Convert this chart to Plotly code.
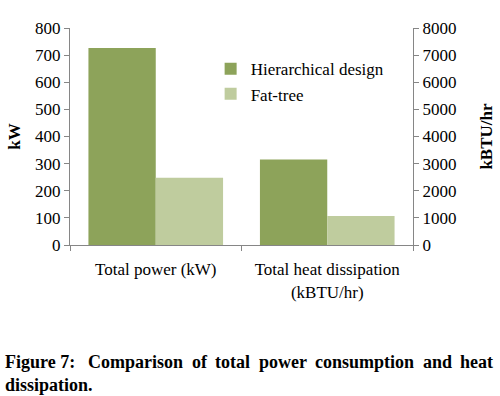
import plotly.graph_objects as go

categories = ["Total power (kW)", "Total heat dissipation<br>(kBTU/hr)"]
series_names = ["Hierarchical design", "Fat-tree"]
power_kw = [726, 248]          # left axis, kW
heat_kbtu = [3150, 1070]       # right axis, kBTU/hr
colors = ["#8DA35A", "#BFCC9E"]

caption_words = ["Figure 7:", "Comparison", "of", "total", "power", "consumption", "and", "heat"]
caption_word_x = [5, 88, 191.5, 215, 258.5, 315, 422.5, 460]   # left edge, px
caption_line2 = "dissipation."

FONT = "Liberation Serif, Times New Roman, serif"

# plot area in pixels
PX0, PX1, PY0, PY1 = 70, 413, 28, 245
def px_x(px):
    return (px - PX0) / (PX1 - PX0)
def px_y(py):
    return (PY1 - py) / (PY1 - PY0)

fig = go.Figure()
for i, name in enumerate(series_names):
    fig.add_trace(go.Bar(
        x=[categories[0]], y=[power_kw[i]], name=name,
        marker=dict(color=colors[i], line=dict(width=0)),
        offsetgroup=str(i), legendgroup=name, showlegend=True,
        yaxis="y",
    ))
for i, name in enumerate(series_names):
    fig.add_trace(go.Bar(
        x=[categories[1]], y=[heat_kbtu[i]], name=name,
        marker=dict(color=colors[i], line=dict(width=0)),
        offsetgroup=str(i), legendgroup=name, showlegend=False,
        yaxis="y2",
    ))

annotations = []
for w, x in zip(caption_words, caption_word_x):
    annotations.append(dict(
        text="<b>%s</b>" % w, xref="paper", yref="paper",
        x=px_x(x), y=px_y(362), xanchor="left", yanchor="middle",
        showarrow=False, font=dict(family=FONT, size=18), borderpad=0, xshift=-1))
annotations.append(dict(
    text="<b>%s</b>" % caption_line2, xref="paper", yref="paper",
    x=px_x(5), y=px_y(385), xanchor="left", yanchor="middle",
    showarrow=False, font=dict(family=FONT, size=18), borderpad=0, xshift=-1))

axis_grey = "#868686"
fig.update_layout(
    width=500, height=396,
    margin=dict(l=PX0, r=500 - PX1, t=PY0, b=396 - PY1),
    paper_bgcolor="white", plot_bgcolor="white",
    font=dict(family=FONT, size=17, color="black"),
    barmode="group", bargap=0.215, bargroupgap=0,
    xaxis=dict(
        categoryorder="array", categoryarray=categories,
        showline=True, linecolor=axis_grey, linewidth=1,
        ticks="outside", tickson="boundaries", ticklen=5, tickcolor=axis_grey,
        showgrid=False, zeroline=False, automargin=False,
        ticklabelstandoff=9,
        tickfont=dict(family=FONT, size=17),
    ),
    yaxis=dict(
        range=[0, 800], dtick=100,
        showline=True, linecolor=axis_grey, linewidth=1,
        ticks="outside", ticklen=5, tickcolor=axis_grey,
        showgrid=False, zeroline=False, automargin=False,
        title=dict(text="<b>kW</b>", standoff=10, font=dict(family=FONT, size=17)),
        tickfont=dict(family=FONT, size=17),
    ),
    yaxis2=dict(
        range=[0, 8000], dtick=1000, overlaying="y", side="right",
        showline=True, linecolor=axis_grey, linewidth=1,
        ticks="outside", ticklen=5, tickcolor=axis_grey,
        showgrid=False, zeroline=False, automargin=False,
        title=dict(text="<b>kBTU/hr</b>", standoff=24, font=dict(family=FONT, size=17)),
        tickfont=dict(family=FONT, size=17),
    ),
    legend=dict(
        x=0.41, y=0.893, xanchor="left", yanchor="top",
        bgcolor="rgba(0,0,0,0)", font=dict(family=FONT, size=17),
        itemwidth=30, tracegroupgap=0,
    ),
    annotations=annotations,
)

fig.write_html("out.html", config={"displayModeBar": False},
               post_script="document.body.style.margin='0';")
